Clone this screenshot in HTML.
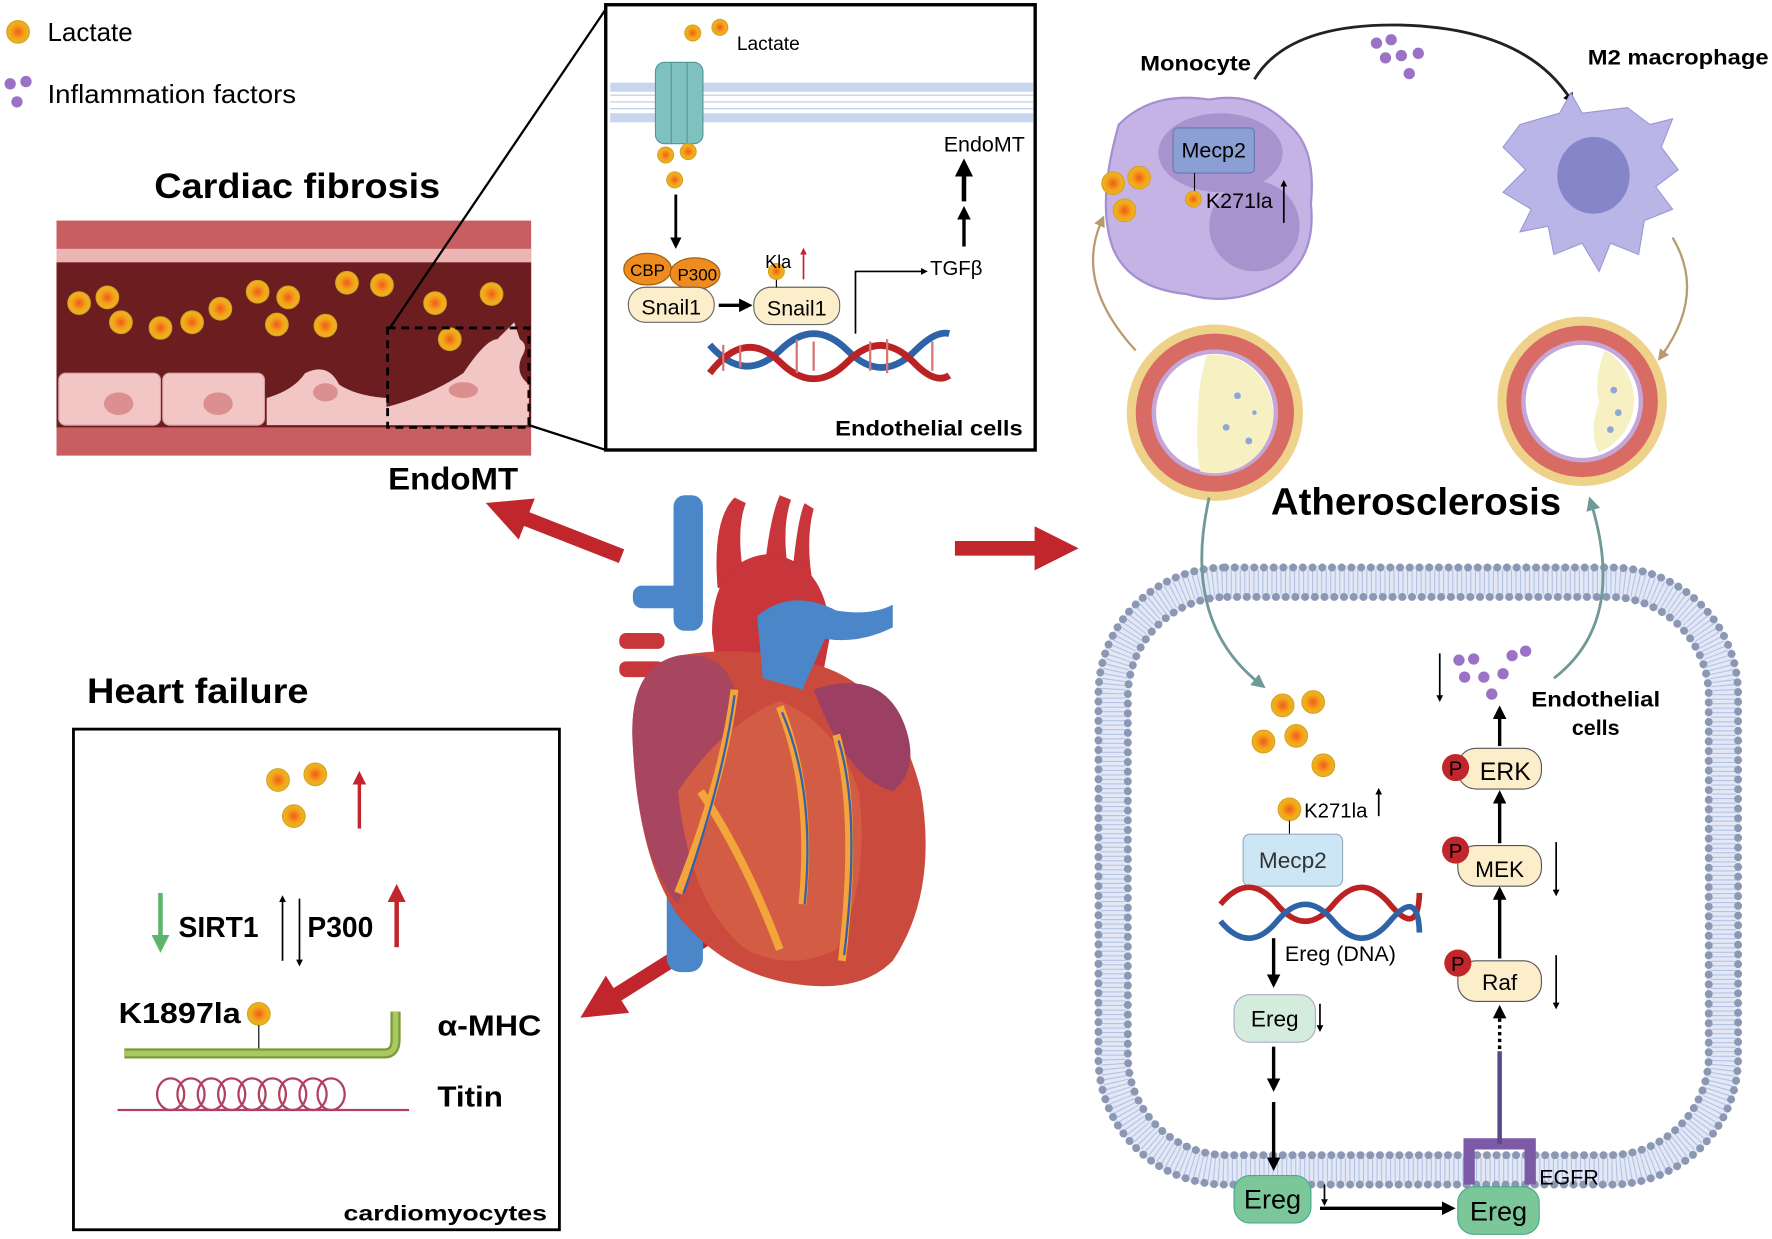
<!DOCTYPE html>
<html><head><meta charset="utf-8"><style>
html,body{margin:0;padding:0;background:#fff}
svg{display:block}
text{font-family:"Liberation Sans",Arial,sans-serif}
</style></head><body>
<svg width="1772" height="1239" viewBox="0 0 1568 1096" xmlns="http://www.w3.org/2000/svg">
<defs>
<radialGradient id="lac" cx="50%" cy="50%" r="50%"><stop offset="0" stop-color="#f05a1a"/><stop offset="0.6" stop-color="#f4a21a"/><stop offset="1" stop-color="#e9b820"/></radialGradient>
<marker id="ahs" markerWidth="4" markerHeight="4" refX="2" refY="2" orient="auto"><path d="M0,0 L4,2 L0,4 z" fill="#000"/></marker>
<marker id="ahr" markerWidth="4" markerHeight="4" refX="2" refY="2" orient="auto"><path d="M0,0 L4,2 L0,4 z" fill="#c0262c"/></marker>
<marker id="ahg" markerWidth="4" markerHeight="4" refX="2" refY="2" orient="auto"><path d="M0,0 L4,2 L0,4 z" fill="#5bb56a"/></marker>
<marker id="aht" markerWidth="5" markerHeight="5" refX="2.5" refY="2.5" orient="auto"><path d="M0,0 L5,2.5 L0,5 z" fill="#6f9a98"/></marker>
<marker id="ahb" markerWidth="5" markerHeight="5" refX="2.5" refY="2.5" orient="auto"><path d="M0,0 L5,2.5 L0,5 z" fill="#b89a6e"/></marker>
<marker id="ahbig" markerWidth="3" markerHeight="3" refX="1.5" refY="1.5" orient="auto"><path d="M0,0 L3,1.5 L0,3 z" fill="#c0262c"/></marker>
<g id="L"><circle r="10" fill="url(#lac)" stroke="#d8a020" stroke-width="1"/></g>
<g id="Ls"><circle r="7" fill="url(#lac)" stroke="#d8a020" stroke-width="1"/></g>
</defs>

<!-- legend -->
<use href="#L" x="16" y="28"/>
<text x="42" y="36" font-size="23">Lactate</text>
<circle cx="9" cy="74" r="5" fill="#9b72c6"/><circle cx="23" cy="72" r="5" fill="#9b72c6"/><circle cx="15" cy="90" r="5" fill="#9b72c6"/>
<text x="42" y="91" font-size="23" textLength="220" lengthAdjust="spacingAndGlyphs">Inflammation factors</text>

<!-- cardiac fibrosis -->
<text x="263" y="175" font-size="31" font-weight="bold" text-anchor="middle" textLength="253" lengthAdjust="spacingAndGlyphs">Cardiac fibrosis</text>
<rect x="50" y="195" width="420" height="208" fill="#c95e62"/>
<rect x="50" y="220" width="420" height="12" fill="#ebb5b3"/>
<rect x="50" y="232" width="420" height="146" fill="#6b1d1f"/>
<rect x="52" y="330" width="90" height="46" rx="6" fill="#f3c6c6" stroke="#d9a0a0"/>
<rect x="144" y="330" width="90" height="46" rx="6" fill="#f3c6c6" stroke="#d9a0a0"/>
<path d="M236,376 L236,352 Q260,345 270,330 Q290,320 300,340 Q315,350 342,352 L342,376 z" fill="#f3c6c6"/>
<path d="M342,376 L342,360 Q380,350 410,330 Q430,300 440,300 Q450,290 455,285 L460,300 Q468,305 462,315 Q455,330 468,340 L468,376 z" fill="#f3c6c6"/>
<ellipse cx="105" cy="357" rx="13" ry="10" fill="#dc8f8f"/><ellipse cx="193" cy="357" rx="13" ry="10" fill="#dc8f8f"/><ellipse cx="288" cy="347" rx="11" ry="8" fill="#dc8f8f"/><ellipse cx="410" cy="345" rx="13" ry="7" fill="#dc8f8f"/>
<g>
<use href="#L" x="70" y="268"/><use href="#L" x="95" y="263"/><use href="#L" x="107" y="285"/><use href="#L" x="142" y="290"/><use href="#L" x="170" y="285"/><use href="#L" x="195" y="273"/><use href="#L" x="228" y="258"/><use href="#L" x="255" y="263"/><use href="#L" x="245" y="287"/><use href="#L" x="288" y="288"/><use href="#L" x="307" y="250"/><use href="#L" x="338" y="252"/><use href="#L" x="385" y="268"/><use href="#L" x="435" y="260"/><use href="#L" x="398" y="300"/>
</g>
<rect x="343" y="290" width="125" height="88" fill="none" stroke="#000" stroke-width="2.5" stroke-dasharray="7,5"/>
<line x1="345" y1="290" x2="536" y2="8" stroke="#000" stroke-width="2"/>
<line x1="468" y1="376" x2="536" y2="398" stroke="#000" stroke-width="2"/>
<text x="401" y="433" font-size="28" font-weight="bold" text-anchor="middle" textLength="115" lengthAdjust="spacingAndGlyphs">EndoMT</text>

<!-- inset -->
<rect x="536" y="4" width="380" height="394" fill="#fff" stroke="#000" stroke-width="3"/>
<rect x="540" y="73" width="374" height="8" fill="#c7d6ec"/>
<rect x="540" y="100" width="374" height="8" fill="#c7d6ec"/>
<g stroke="#b9c9e3" stroke-width="1">
<line x1="540" y1="84" x2="914" y2="84"/><line x1="540" y1="90" x2="914" y2="90"/><line x1="540" y1="96" x2="914" y2="96"/>
</g>
<rect x="580" y="55" width="42" height="72" rx="8" fill="#7fc1bf" stroke="#4f9795"/>
<line x1="594" y1="55" x2="594" y2="127" stroke="#4f9795"/><line x1="608" y1="55" x2="608" y2="127" stroke="#4f9795"/>
<use href="#Ls" x="613" y="29"/><use href="#Ls" x="637" y="24"/>
<text x="652" y="44" font-size="17">Lactate</text>
<use href="#Ls" x="589" y="137"/><use href="#Ls" x="609" y="134"/><use href="#Ls" x="597" y="159"/>
<line x1="598" y1="172" x2="598" y2="215" stroke="#000" stroke-width="2.5" marker-end="url(#ahs)"/>
<!-- DNA -->
<path d="M628,305 Q659,340 690,310 Q720,280 750,310 Q780,340 810,310 Q828,292 840,295" fill="none" stroke="#2f63a8" stroke-width="6"/>
<path d="M628,330 Q659,290 690,320 Q720,350 750,320 Q780,290 810,322 Q828,340 840,332" fill="none" stroke="#bb2224" stroke-width="6"/>
<g stroke="#d67575" stroke-width="2"><line x1="640" y1="305" x2="640" y2="328"/><line x1="655" y1="305" x2="655" y2="325"/><line x1="705" y1="300" x2="705" y2="330"/><line x1="720" y1="302" x2="720" y2="328"/><line x1="770" y1="302" x2="770" y2="328"/><line x1="785" y1="300" x2="785" y2="330"/><line x1="825" y1="302" x2="825" y2="328"/></g>
<ellipse cx="573" cy="238" rx="21" ry="14" fill="#ee8c1f" stroke="#a05a10"/>
<ellipse cx="615" cy="242" rx="22" ry="14" fill="#ee8c1f" stroke="#a05a10"/>
<text x="573" y="244" font-size="15" text-anchor="middle">CBP</text>
<text x="617" y="248" font-size="15" text-anchor="middle">P300</text>
<rect x="556" y="254" width="76" height="31" rx="15" fill="#fdeecb" stroke="#666"/>
<text x="594" y="278" font-size="19" text-anchor="middle">Snail1</text>
<line x1="636" y1="270" x2="660" y2="270" stroke="#000" stroke-width="3" marker-end="url(#ahs)"/>
<rect x="667" y="254" width="76" height="33" rx="15" fill="#fdeecb" stroke="#666"/>
<text x="705" y="279" font-size="19" text-anchor="middle">Snail1</text>
<line x1="687" y1="244" x2="687" y2="254" stroke="#000"/><use href="#Ls" x="687" y="240"/>
<text x="677" y="237" font-size="16">Kla</text>
<line x1="711" y1="247" x2="711" y2="222" stroke="#c0262c" stroke-width="1.5" marker-end="url(#ahr)"/>
<path d="M757,295 L757,240 L818,240" fill="none" stroke="#000" stroke-width="1.5" marker-end="url(#ahs)"/>
<text x="823" y="243" font-size="18">TGFβ</text>
<line x1="853" y1="218" x2="853" y2="188" stroke="#000" stroke-width="3" marker-end="url(#ahs)"/>
<line x1="853" y1="178" x2="853" y2="148" stroke="#000" stroke-width="4" marker-end="url(#ahs)"/>
<text x="871" y="134" font-size="19" text-anchor="middle">EndoMT</text>
<text x="905" y="385" font-size="19" font-weight="bold" text-anchor="end" textLength="166" lengthAdjust="spacingAndGlyphs">Endothelial cells</text>

<!-- big red arrows -->
<line x1="550" y1="492" x2="448" y2="452" stroke="#c0262c" stroke-width="13" marker-end="url(#ahbig)"/>
<line x1="845" y1="485" x2="935" y2="485" stroke="#c0262c" stroke-width="13" marker-end="url(#ahbig)"/>
<line x1="665" y1="805" x2="530" y2="890" stroke="#c0262c" stroke-width="13" marker-end="url(#ahbig)"/>

<!-- heart -->
<g>
<rect x="596" y="438" width="26" height="120" rx="10" fill="#4b86c8"/>
<rect x="590" y="760" width="32" height="100" rx="12" fill="#4b86c8"/>
<path d="M635,520 Q630,460 650,440 L660,445 Q650,470 660,520 z" fill="#c8353a"/>
<path d="M675,520 Q680,460 690,438 L700,442 Q690,470 700,520 z" fill="#c8353a"/>
<path d="M700,520 Q705,460 712,445 L720,450 Q712,480 720,520 z" fill="#c8353a"/>
<rect x="560" y="518" width="48" height="20" rx="8" fill="#4b86c8"/>
<rect x="548" y="560" width="40" height="14" rx="6" fill="#c8353a"/>
<rect x="548" y="585" width="40" height="14" rx="6" fill="#c8353a"/>
<path d="M630,560 Q630,495 680,490 Q730,495 735,560 L720,640 L640,640 z" fill="#c8353a"/>
<path d="M560,660 Q555,590 600,580 Q660,570 710,585 Q790,600 815,700 Q830,790 790,850 Q760,880 700,870 Q640,860 600,810 Q565,760 560,660 z" fill="#cb4a3e"/>
<path d="M560,660 Q555,590 600,580 Q640,575 650,610 Q630,700 600,800 Q565,760 560,660 z" fill="#a9465f"/>
<path d="M720,610 Q780,590 800,640 Q815,680 790,700 Q750,690 720,610 z" fill="#9b4063"/>
<path d="M670,545 Q700,520 740,540 Q770,545 790,535 L790,555 Q760,570 730,565 L710,610 L675,600 z" fill="#4b86c8"/>
<path d="M600,700 Q640,640 690,620 Q740,640 760,700 Q770,780 740,840 Q700,860 660,840 Q610,800 600,700 z" fill="#d35c44"/>
<g fill="none" stroke="#f1a53a" stroke-width="7">
<path d="M650,610 Q640,690 600,790"/><path d="M690,625 Q720,700 710,800"/><path d="M740,650 Q760,720 745,850"/><path d="M620,700 Q660,760 690,840"/>
</g>
<g fill="none" stroke="#3a5ea8" stroke-width="2">
<path d="M650,615 Q640,690 605,790"/><path d="M692,630 Q722,700 712,800"/><path d="M742,655 Q762,720 747,845"/>
</g>
</g>

<!-- heart failure -->
<text x="175" y="622" font-size="31" font-weight="bold" text-anchor="middle" textLength="196" lengthAdjust="spacingAndGlyphs">Heart failure</text>
<rect x="65" y="645" width="430" height="443" fill="#fff" stroke="#000" stroke-width="2.5"/>
<use href="#L" x="246" y="690"/><use href="#L" x="279" y="685"/><use href="#L" x="260" y="722"/>
<line x1="318" y1="733" x2="318" y2="688" stroke="#c0262c" stroke-width="3" marker-end="url(#ahr)"/>
<line x1="142" y1="790" x2="142" y2="835" stroke="#5bb56a" stroke-width="4" marker-end="url(#ahg)"/>
<text x="158" y="829" font-size="25" font-weight="bold">SIRT1</text>
<line x1="250" y1="850" x2="250" y2="795" stroke="#000" stroke-width="1.5" marker-end="url(#ahs)"/>
<line x1="265" y1="795" x2="265" y2="852" stroke="#000" stroke-width="1.5" marker-end="url(#ahs)"/>
<text x="272" y="829" font-size="25" font-weight="bold">P300</text>
<line x1="351" y1="838" x2="351" y2="790" stroke="#c0262c" stroke-width="4" marker-end="url(#ahr)"/>
<text x="105" y="905" font-size="25" font-weight="bold" textLength="108" lengthAdjust="spacingAndGlyphs">K1897la</text>
<use href="#L" x="229" y="897"/>
<line x1="229" y1="907" x2="229" y2="930" stroke="#000"/>
<path d="M110,932 L340,932 Q350,932 350,920 L350,895" fill="none" stroke="#7a9a3a" stroke-width="9"/>
<path d="M110,932 L340,932 Q350,932 350,920 L350,895" fill="none" stroke="#a8c860" stroke-width="5"/>
<text x="387" y="916" font-size="25" font-weight="bold" textLength="92" lengthAdjust="spacingAndGlyphs">α-MHC</text>
<line x1="104" y1="982" x2="362" y2="982" stroke="#b04060" stroke-width="2"/>
<g fill="none" stroke="#b04060" stroke-width="2">
<ellipse cx="151" cy="968" rx="12" ry="14"/><ellipse cx="169" cy="968" rx="12" ry="14"/><ellipse cx="187" cy="968" rx="12" ry="14"/><ellipse cx="205" cy="968" rx="12" ry="14"/><ellipse cx="223" cy="968" rx="12" ry="14"/><ellipse cx="241" cy="968" rx="12" ry="14"/><ellipse cx="259" cy="968" rx="12" ry="14"/><ellipse cx="277" cy="968" rx="12" ry="14"/><ellipse cx="293" cy="968" rx="12" ry="14"/>
</g>
<text x="387" y="979" font-size="25" font-weight="bold" textLength="58" lengthAdjust="spacingAndGlyphs">Titin</text>
<text x="484" y="1080" font-size="19" font-weight="bold" text-anchor="end" textLength="180" lengthAdjust="spacingAndGlyphs">cardiomyocytes</text>

<!-- right top -->
<text x="1058" y="62" font-size="19" font-weight="bold" text-anchor="middle" textLength="98" lengthAdjust="spacingAndGlyphs">Monocyte</text>
<text x="1485" y="57" font-size="19" font-weight="bold" text-anchor="middle" textLength="160" lengthAdjust="spacingAndGlyphs">M2 macrophage</text>
<path d="M1110,70 Q1140,20 1240,22 Q1350,25 1390,88" fill="none" stroke="#222" stroke-width="2.5" marker-end="url(#ahs)"/>
<g fill="#9b72c6"><circle cx="1218" cy="38" r="5"/><circle cx="1231" cy="35" r="5"/><circle cx="1226" cy="51" r="5"/><circle cx="1240" cy="49" r="5"/><circle cx="1255" cy="47" r="5"/><circle cx="1247" cy="65" r="5"/></g>
<path d="M990,110 Q1020,80 1070,88 Q1110,80 1140,110 Q1165,130 1160,180 Q1165,230 1130,250 Q1090,272 1050,260 Q1000,255 985,220 Q970,180 990,110 z" fill="#c6b3e6" stroke="#a58fd0" stroke-width="2"/>
<ellipse cx="1080" cy="135" rx="55" ry="35" fill="#a993cf"/>
<ellipse cx="1110" cy="200" rx="40" ry="40" fill="#a993cf"/>
<rect x="1038" y="113" width="72" height="40" rx="4" fill="#8b9fd4" stroke="#6679b0"/>
<text x="1074" y="139" font-size="19" text-anchor="middle">Mecp2</text>
<line x1="1057" y1="153" x2="1057" y2="172" stroke="#000"/>
<use href="#Ls" x="1056" y="176"/>
<text x="1067" y="184" font-size="19">K271la</text>
<line x1="1136" y1="197" x2="1136" y2="162" stroke="#000" stroke-width="1.5" marker-end="url(#ahs)"/>
<use href="#L" x="985" y="162"/><use href="#L" x="1008" y="157"/><use href="#L" x="995" y="186"/>
<path d="M1345,110 L1380,100 L1390,82 L1400,100 L1440,95 L1460,110 L1480,105 L1470,130 L1485,150 L1465,165 L1480,185 L1455,195 L1450,225 L1425,215 L1415,240 L1400,215 L1375,225 L1370,200 L1345,205 L1355,185 L1330,170 L1350,150 L1330,130 z" fill="#b9b5e6" stroke="#9c98d4"/>
<ellipse cx="1410" cy="155" rx="32" ry="34" fill="#8586c8"/>
<path d="M1005,310 Q950,250 975,195" fill="none" stroke="#b89a6e" stroke-width="2" marker-end="url(#ahb)"/>
<path d="M1480,210 Q1510,260 1470,315" fill="none" stroke="#b89a6e" stroke-width="2" marker-end="url(#ahb)"/>
<!-- vessel sections -->
<circle cx="1075" cy="365" r="78" fill="#eed28a"/>
<circle cx="1075" cy="365" r="70" fill="#d86b64"/>
<circle cx="1075" cy="365" r="56" fill="#c4a7d8"/>
<circle cx="1075" cy="365" r="52" fill="#fff"/>
<path d="M1068,314 Q1060,340 1060,365 Q1058,395 1062,417 A52,52 0 0 0 1122,345 A52,52 0 0 0 1068,314 z" fill="#f6f0c2"/>
<g fill="#8fa6d8"><circle cx="1095" cy="350" r="3"/><circle cx="1085" cy="378" r="3"/><circle cx="1105" cy="390" r="3"/><circle cx="1110" cy="365" r="2"/></g>
<circle cx="1400" cy="355" r="75" fill="#eed28a"/>
<circle cx="1400" cy="355" r="67" fill="#d86b64"/>
<circle cx="1400" cy="355" r="54" fill="#c4a7d8"/>
<circle cx="1400" cy="355" r="50" fill="#fff"/>
<path d="M1420,310 Q1410,335 1415,355 Q1405,385 1415,400 A50,50 0 0 0 1420,310 z" fill="#f6f0c2"/>
<g fill="#8fa6d8"><circle cx="1428" cy="345" r="3"/><circle cx="1432" cy="365" r="3"/><circle cx="1425" cy="380" r="3"/></g>
<text x="1253" y="455" font-size="34" font-weight="bold" text-anchor="middle">Atherosclerosis</text>

<!-- cell membrane -->
<rect x="985" y="515" width="540" height="520" rx="100" fill="none" stroke="#e2e8f5" stroke-width="30"/>
<rect x="985" y="515" width="540" height="520" rx="100" fill="none" stroke="#b5c3e3" stroke-width="22" stroke-dasharray="1,3"/>
<rect x="972" y="502" width="566" height="546" rx="112" fill="none" stroke="#8c97b3" stroke-width="7" stroke-dasharray="0.1,8.5" stroke-linecap="round"/>
<rect x="998" y="528" width="514" height="494" rx="88" fill="none" stroke="#8c97b3" stroke-width="7" stroke-dasharray="0.1,8.5" stroke-linecap="round"/>
<path d="M1070,440 Q1045,550 1115,605" fill="none" stroke="#6f9a98" stroke-width="2.5" marker-end="url(#aht)"/>
<path d="M1375,600 Q1440,550 1408,445" fill="none" stroke="#6f9a98" stroke-width="2.5" marker-end="url(#aht)"/>
<use href="#L" x="1135" y="624"/><use href="#L" x="1162" y="621"/><use href="#L" x="1118" y="656"/><use href="#L" x="1147" y="651"/><use href="#L" x="1171" y="677"/>
<use href="#L" x="1141" y="716"/>
<text x="1154" y="723" font-size="18">K271la</text>
<line x1="1220" y1="722" x2="1220" y2="700" stroke="#000" stroke-width="1.5" marker-end="url(#ahs)"/>
<line x1="1141" y1="726" x2="1141" y2="740" stroke="#000"/>
<rect x="1100" y="738" width="88" height="46" rx="6" fill="#cde6f6" stroke="#9ab"/>
<text x="1144" y="768" font-size="20" text-anchor="middle" fill="#333">Mecp2</text>
<path d="M1080,800 Q1105,770 1130,800 T1180,800 T1230,800 T1256,790" fill="none" stroke="#bb2224" stroke-width="5"/>
<path d="M1080,815 Q1105,845 1130,815 T1180,815 T1230,815 T1256,825" fill="none" stroke="#2f63a8" stroke-width="5"/>
<line x1="1127" y1="830" x2="1127" y2="868" stroke="#000" stroke-width="3" marker-end="url(#ahs)"/>
<text x="1137" y="850" font-size="19">Ereg (DNA)</text>
<rect x="1092" y="880" width="72" height="42" rx="14" fill="#d3ecdc" stroke="#aac"/>
<text x="1128" y="908" font-size="20" text-anchor="middle">Ereg</text>
<line x1="1168" y1="888" x2="1168" y2="910" stroke="#000" stroke-width="1.5" marker-end="url(#ahs)"/>
<line x1="1127" y1="926" x2="1127" y2="960" stroke="#000" stroke-width="3" marker-end="url(#ahs)"/>
<line x1="1127" y1="975" x2="1127" y2="1030" stroke="#000" stroke-width="3" marker-end="url(#ahs)"/>
<rect x="1092" y="1040" width="68" height="42" rx="14" fill="#7cc79a" stroke="#4a8"/>
<text x="1126" y="1069" font-size="24" text-anchor="middle">Ereg</text>
<line x1="1172" y1="1048" x2="1172" y2="1064" stroke="#000" stroke-width="1.5" marker-end="url(#ahs)"/>
<line x1="1168" y1="1069" x2="1282" y2="1069" stroke="#000" stroke-width="3" marker-end="url(#ahs)"/>
<rect x="1290" y="1050" width="72" height="42" rx="14" fill="#7cc79a" stroke="#4a8"/>
<text x="1326" y="1080" font-size="24" text-anchor="middle">Ereg</text>
<path d="M1300,1048 L1300,1012 L1354,1012 L1354,1048" fill="none" stroke="#7d5aa6" stroke-width="10"/>
<line x1="1327" y1="1012" x2="1327" y2="930" stroke="#5a4a8a" stroke-width="4"/>
<line x1="1327" y1="928" x2="1327" y2="895" stroke="#000" stroke-width="3" stroke-dasharray="3,3" marker-end="url(#ahs)"/>
<text x="1362" y="1048" font-size="19">EGFR</text>
<rect x="1290" y="850" width="74" height="36" rx="16" fill="#fdeecb" stroke="#555"/>
<text x="1327" y="876" font-size="20" text-anchor="middle">Raf</text>
<circle cx="1290" cy="852" r="12" fill="#c0262c"/><text x="1290" y="859" font-size="18" text-anchor="middle">P</text>
<line x1="1377" y1="845" x2="1377" y2="890" stroke="#000" stroke-width="1.5" marker-end="url(#ahs)"/>
<line x1="1327" y1="848" x2="1327" y2="790" stroke="#000" stroke-width="3" marker-end="url(#ahs)"/>
<rect x="1290" y="748" width="74" height="36" rx="16" fill="#fdeecb" stroke="#555"/>
<text x="1327" y="776" font-size="20" text-anchor="middle">MEK</text>
<circle cx="1288" cy="752" r="12" fill="#c0262c"/><text x="1288" y="759" font-size="18" text-anchor="middle">P</text>
<line x1="1377" y1="745" x2="1377" y2="790" stroke="#000" stroke-width="1.5" marker-end="url(#ahs)"/>
<line x1="1327" y1="746" x2="1327" y2="705" stroke="#000" stroke-width="3" marker-end="url(#ahs)"/>
<rect x="1290" y="662" width="74" height="36" rx="16" fill="#fdeecb" stroke="#555"/>
<text x="1332" y="690" font-size="22" text-anchor="middle">ERK</text>
<circle cx="1288" cy="679" r="12" fill="#c0262c"/><text x="1288" y="686" font-size="18" text-anchor="middle">P</text>
<line x1="1327" y1="660" x2="1327" y2="630" stroke="#000" stroke-width="3" marker-end="url(#ahs)"/>
<line x1="1274" y1="578" x2="1274" y2="618" stroke="#000" stroke-width="1.5" marker-end="url(#ahs)"/>
<g fill="#9b72c6"><circle cx="1291" cy="584" r="5"/><circle cx="1304" cy="583" r="5"/><circle cx="1296" cy="599" r="5"/><circle cx="1313" cy="599" r="5"/><circle cx="1330" cy="596" r="5"/><circle cx="1338" cy="580" r="5"/><circle cx="1350" cy="576" r="5"/><circle cx="1320" cy="614" r="5"/></g>
<text x="1412" y="625" font-size="19" font-weight="bold" text-anchor="middle" textLength="114" lengthAdjust="spacingAndGlyphs">Endothelial</text>
<text x="1412" y="650" font-size="19" font-weight="bold" text-anchor="middle">cells</text>
</svg>
</body></html>
